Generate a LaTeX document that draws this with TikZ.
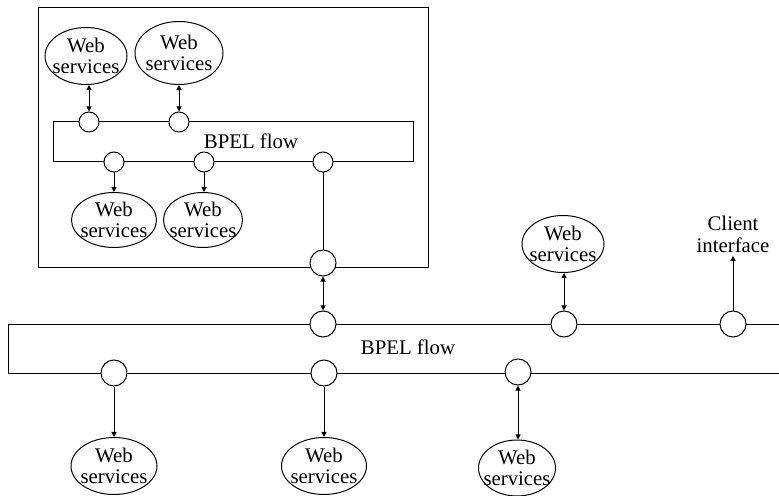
\documentclass[tikz,border=0pt]{standalone}
\usepackage{fontspec}
\setmainfont{Liberation Serif}
\usepackage{tikz}
\usetikzlibrary{shapes.geometric,arrows.meta}
\newcommand{\svcfont}{\fontsize{10.4}{10.6}\selectfont}
\tikzset{
    port/.style={draw, circle, fill=white, inner sep=0pt, minimum size=10pt},
    bigport/.style={port, minimum size=13pt},
    wsvc/.style={draw, ellipse, fill=white, inner sep=0pt,
      label={[align=center, font=\svcfont]center:Web\\services}},
    wstip/.tip={Triangle[length=2.6pt,width=2.6pt]}}

\begin{document}
\begin{tikzpicture}[x=0.5pt,y=-0.5pt, line width=0.5pt, font=\svcfont]
\useasboundingbox (0,0) rectangle (779,496);
% inner process
\draw (38,8) rectangle (428,267);
\draw (53,122) rectangle (413,162);
\node (flowin) at (251,141) {BPEL flow};

\node[wsvc, minimum width=41pt, minimum height=28.5pt] (w1) at (86,56) {};
\node[wsvc, minimum width=44pt, minimum height=31.5pt] (w2) at (179,53) {};
\node[wsvc, minimum width=42.5pt, minimum height=27.5pt] (w3) at (114,220) {};
\node[wsvc, minimum width=39.5pt, minimum height=27.5pt] (w4) at (203,220) {};

\node[port] (pa1) at (89,122) {};
\node[port] (pa2) at (179,122) {};
\node[port] (pb1) at (114,162) {};
\node[port] (pb2) at (204,162) {};
\node[port] (pb3) at (323,162) {};
\node[bigport] (pc) at (323,263) {};

\draw [{wstip}-{wstip}] (pa1.north) -- (pa1.north |- w1.south);
\draw [{wstip}-{wstip}] (pa2.north) -- (pa2.north |- w2.south);
\draw [-{wstip}] (pb1.south) -- (pb1.south |- w3.north);
\draw [-{wstip}] (pb2.south) -- (pb2.south |- w4.north);
\draw (pb3) -- (pc);

% main process
\draw (779,324) -- (8,324) -- (8,373) -- (779,373);
\node (flowout) at (408,347) {BPEL flow};

\node[wsvc, minimum width=41pt, minimum height=28.5pt] (w5) at (563,244) {};
\node[wsvc, minimum width=43pt, minimum height=28.5pt] (w6) at (114,466) {};
\node[wsvc, minimum width=42.5pt, minimum height=28.5pt] (w7) at (324,466) {};
\node[wsvc, minimum width=38.5pt, minimum height=28pt] (w8) at (517,468) {};
\node[align=center, inner sep=1.5pt, font=\fontsize{10.4}{11}\selectfont] (client) at (733,234) {Client\\interface};

\node[port, minimum size=13pt] (pd1) at (323,324) {};
\node[port, minimum size=13pt] (pd2) at (564,324) {};
\node[port, minimum size=13pt] (pd3) at (733,324) {};
\node[port, minimum size=13pt] (pe1) at (114,373) {};
\node[port, minimum size=13pt] (pe2) at (324,373) {};
\node[port, minimum size=13pt] (pe3) at (518,372) {};

\draw [{wstip}-{wstip}] (pc) -- (pd1);
\draw [{wstip}-{wstip}] (pd2.north) -- (pd2.north |- w5.south);
\draw [-{wstip}] (pd3) -- (client);
\draw [-{wstip}] (pe1.south) -- (pe1.south |- w6.north);
\draw [-{wstip}] (pe2.south) -- (pe2.south |- w7.north);
\draw [{wstip}-{wstip}] (pe3.south) -- (pe3.south |- w8.north);
\end{tikzpicture}
\end{document}
